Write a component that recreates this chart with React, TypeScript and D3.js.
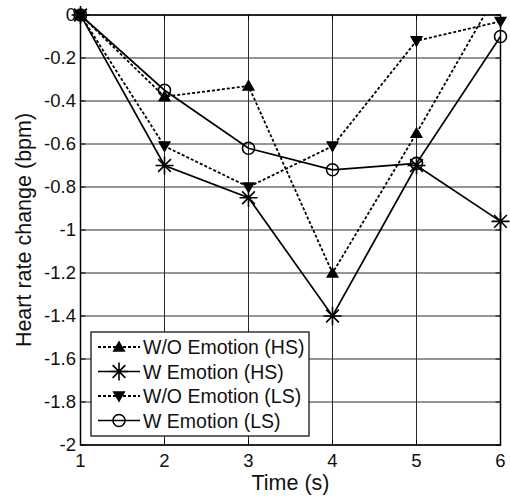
import * as d3 from "d3";
import { useEffect, useRef } from "react";

// time points (s)
const times = [1, 2, 3, 4, 5, 6];

// heart rate change (bpm) per series
const woEmotionHS = [0, -0.38, -0.33, -1.2, -0.55, 0.13];
const wEmotionHS = [0, -0.7, -0.85, -1.4, -0.7, -0.96];
const woEmotionLS = [0, -0.61, -0.8, -0.61, -0.12, -0.03];
const wEmotionLS = [0, -0.35, -0.62, -0.72, -0.69, -0.1];

const seriesNames = ["W/O Emotion (HS)", "W Emotion (HS)", "W/O Emotion (LS)", "W Emotion (LS)"];

const xTicks = [1, 2, 3, 4, 5, 6];
const yTicks = [0, -0.2, -0.4, -0.6, -0.8, -1, -1.2, -1.4, -1.6, -1.8, -2];

const W = 510;
const H = 499;

const App = () => {
  const ref = useRef<SVGSVGElement | null>(null);

  useEffect(() => {
    const svg = d3.select(ref.current);
    svg.selectAll("*").remove();

    const margin = { top: 15, left: 80.5, right: 9.5, bottom: 54 };
    const x = d3.scaleLinear().domain([1, 6]).range([margin.left, W - margin.right]);
    const y = d3.scaleLinear().domain([-2, 0]).range([H - margin.bottom, margin.top]);
    const [x0, x1] = x.range();
    const [yb, yt] = y.range();
    const font = "Arial, 'Liberation Sans', sans-serif";

    svg.append("rect").attr("width", W).attr("height", H).attr("fill", "white");

    svg.append("defs").append("clipPath").attr("id", "plotclip")
      .append("rect").attr("x", x0).attr("y", yt).attr("width", x1 - x0).attr("height", yb - yt);

    // grid
    const grid = svg.append("g").attr("stroke", "#2a2a2a").attr("stroke-width", 1);
    xTicks.forEach(t => {
      grid.append("line").attr("x1", x(t)).attr("x2", x(t)).attr("y1", yt).attr("y2", yb);
    });
    yTicks.forEach(t => {
      grid.append("line").attr("x1", x0).attr("x2", x1).attr("y1", y(t)).attr("y2", y(t));
    });

    // tick labels
    const tl = svg.append("g").attr("font-family", font).attr("font-size", 18.5).attr("fill", "#111");
    xTicks.forEach(t => {
      tl.append("text").attr("x", x(t)).attr("y", 467).attr("text-anchor", "middle").text(d3.format("d")(t));
    });
    yTicks.forEach(t => {
      tl.append("text").attr("x", 76).attr("y", y(t) + 6).attr("text-anchor", "end").text(String(t));
    });

    // axis titles
    svg.append("text").attr("x", (x0 + x1) / 2).attr("y", 490).attr("text-anchor", "middle")
      .attr("font-family", font).attr("font-size", 21.5).attr("fill", "#111").text("Time (s)");
    svg.append("text").attr("transform", `translate(31, ${(yt + yb) / 2}) rotate(-90)`)
      .attr("text-anchor", "middle").attr("font-family", font).attr("font-size", 21.5).attr("fill", "#111")
      .text("Heart rate change (bpm)");

    // marker drawers
    const triUp = d3.symbol(d3.symbolTriangle, 75)();
    const drawMarker = (g: any, kind: number, cx: number, cy: number) => {
      if (kind === 0) {
        g.append("path").attr("d", triUp).attr("transform", `translate(${cx},${cy + 1})`).attr("fill", "black");
      } else if (kind === 2) {
        g.append("path").attr("d", triUp).attr("transform", `translate(${cx},${cy - 1}) rotate(180)`).attr("fill", "black");
      } else if (kind === 1) {
        const r = 9;
        const d = r * Math.SQRT1_2;
        g.append("path")
          .attr("d", `M${cx - r},${cy}H${cx + r}M${cx},${cy - r}V${cy + r}M${cx - d},${cy - d}L${cx + d},${cy + d}M${cx - d},${cy + d}L${cx + d},${cy - d}`)
          .attr("stroke", "black").attr("stroke-width", 1.6).attr("fill", "none");
      } else {
        g.append("circle").attr("cx", cx).attr("cy", cy).attr("r", 6)
          .attr("fill", "none").attr("stroke", "black").attr("stroke-width", 1.6);
      }
    };

    const allSeries = [woEmotionHS, wEmotionHS, woEmotionLS, wEmotionLS];
    const dashed = [true, false, true, false];

    const line = d3.line<number>().x((_, i) => x(times[i])).y(d => y(d));

    allSeries.forEach((vals, k) => {
      svg.append("path")
        .attr("d", line(vals))
        .attr("clip-path", "url(#plotclip)")
        .attr("fill", "none")
        .attr("stroke", "black")
        .attr("stroke-width", dashed[k] ? 1.8 : 1.7)
        .attr("stroke-dasharray", dashed[k] ? "3,2" : null);
    });

    allSeries.forEach((vals, k) => {
      const g = svg.append("g");
      vals.forEach((v, i) => {
        if (v > 0 || v < -2) return;
        drawMarker(g, k, x(times[i]), y(v));
      });
    });

    // axes box and ticks
    svg.append("rect").attr("x", x0).attr("y", yt).attr("width", x1 - x0).attr("height", yb - yt)
      .attr("fill", "none").attr("stroke", "black").attr("stroke-width", 1.5);
    const tk = svg.append("g").attr("stroke", "black").attr("stroke-width", 1);
    xTicks.forEach(t => {
      tk.append("line").attr("x1", x(t)).attr("x2", x(t)).attr("y1", yb).attr("y2", yb - 5);
      tk.append("line").attr("x1", x(t)).attr("x2", x(t)).attr("y1", yt).attr("y2", yt + 5);
    });
    yTicks.forEach(t => {
      tk.append("line").attr("x1", x0).attr("x2", x0 + 5).attr("y1", y(t)).attr("y2", y(t));
      tk.append("line").attr("x1", x1).attr("x2", x1 - 5).attr("y1", y(t)).attr("y2", y(t));
    });

    // legend
    const lg = svg.append("g");
    lg.append("rect").attr("x", 91).attr("y", 332).attr("width", 218).attr("height", 104)
      .attr("fill", "white").attr("stroke", "black").attr("stroke-width", 1.2);
    seriesNames.forEach((name, k) => {
      const ry = 347 + k * 24.5;
      lg.append("line").attr("x1", 98).attr("x2", 140).attr("y1", ry).attr("y2", ry)
        .attr("stroke", "black").attr("stroke-width", dashed[k] ? 1.8 : 1.7)
        .attr("stroke-dasharray", dashed[k] ? "3,2" : null);
      drawMarker(lg, k, 119, ry);
      lg.append("text").attr("x", 143).attr("y", ry + 7).attr("font-family", font).attr("font-size", 19.5)
        .attr("fill", "#111").text(name);
    });
  }, []);

  return (
    <svg ref={ref} width={W} height={H} style={{ position: "absolute", left: 0, top: 0 }} />
  );
};

export default App;
